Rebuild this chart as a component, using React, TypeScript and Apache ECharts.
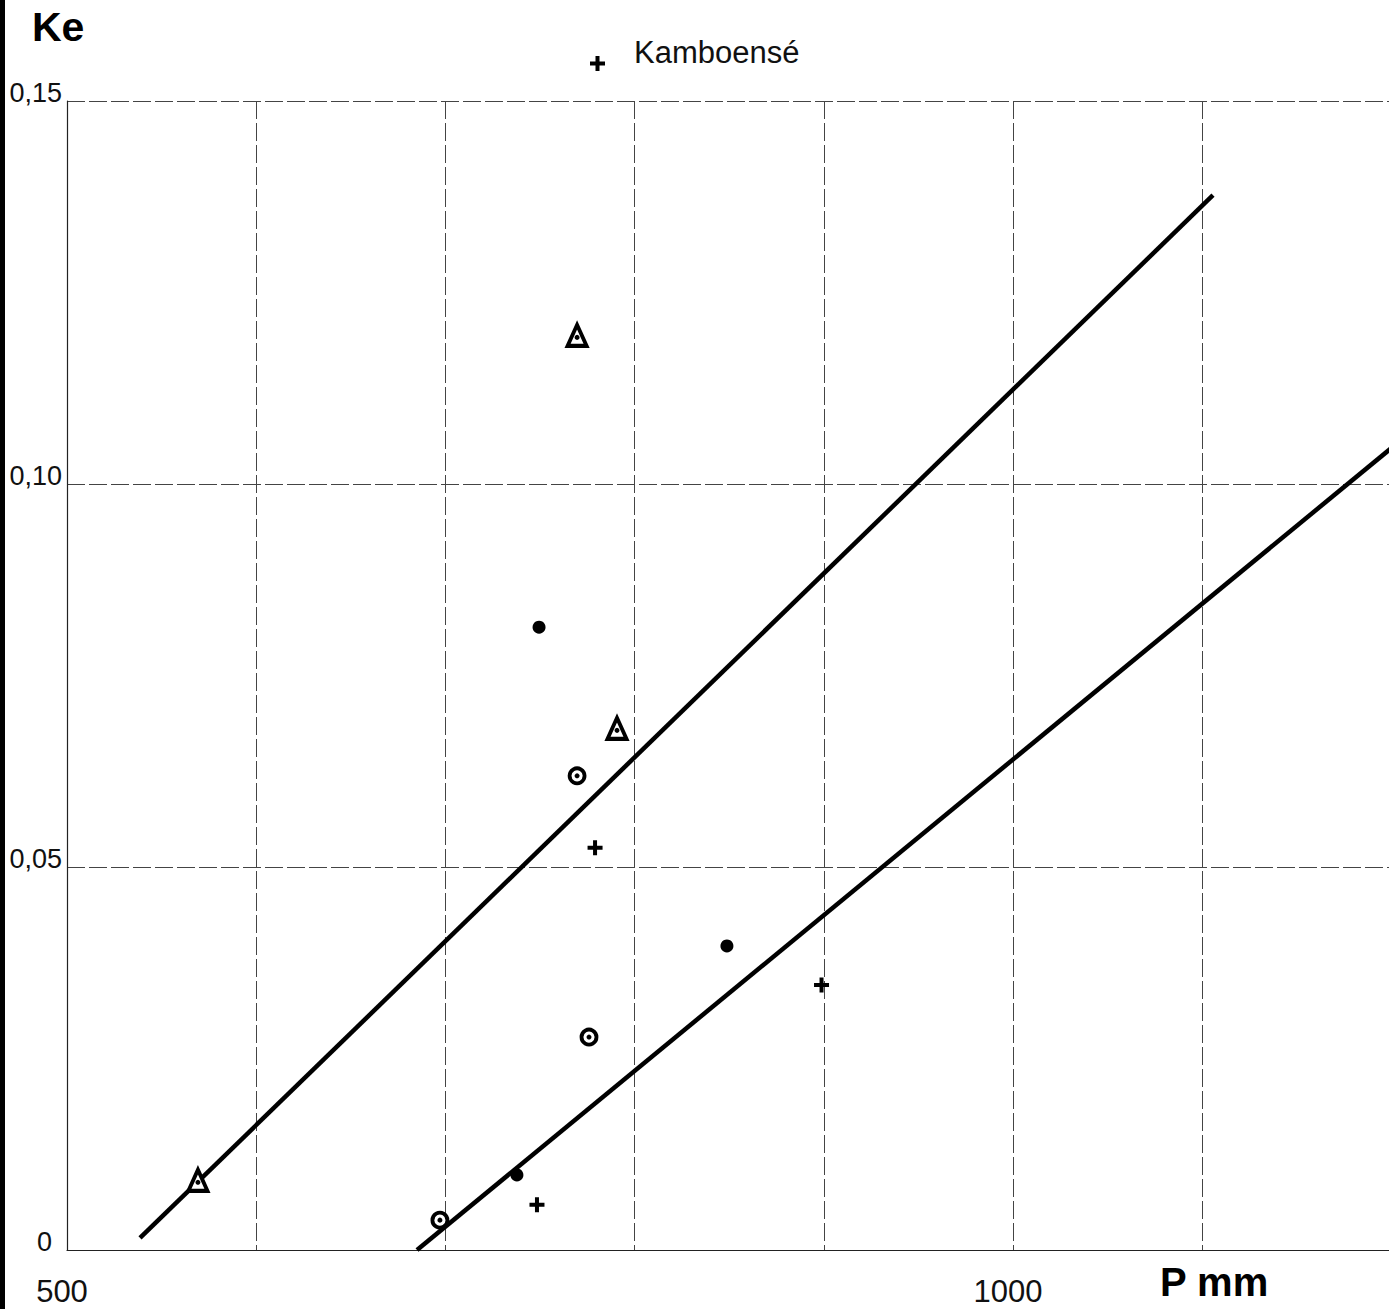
import React, { useEffect, useRef } from 'react';
import * as echarts from 'echarts';

// Tick labels
const xTickLabels = [500, 1000];
const yTickLabels = ['0', '0,05', '0,10', '0,15'];

// Series values: [P mm, Ke]
const triangleSeries = [[769.6, 0.1194], [790.7, 0.0681], [569.2, 0.0091]];
const ringSeries = [[769.6, 0.0619], [775.9, 0.0278], [697.1, 0.0039]];
const dotSeries = [[749.5, 0.0813], [848.8, 0.0397], [737.8, 0.0098]];
const kamboenseSeries = [[779.1, 0.0525], [898.8, 0.0346], [748.4, 0.0059]];
const upperLine = [[538.6, 0.00157], [1105.7, 0.1377]];
const lowerLine = [[685.0, 0], [1200, 0.1047]];

const FONT = 'Liberation Sans';
const PLUS = 'path://M0,5.5 L15,5.5 L15,9.5 L0,9.5 Z M5.5,0 L9.5,0 L9.5,15 L5.5,15 Z';
// legend icon: same plus, placed low in a taller box (degenerate top point sets the box)
const PLUS_LEGEND =
  'path://M7.5,0 L7.5,0 Z M0,28.5 L15,28.5 L15,32.5 L0,32.5 Z M5.5,23 L9.5,23 L9.5,38 L5.5,38 Z';

export default function App() {
  const ref = useRef<HTMLDivElement>(null);
  useEffect(() => {
    if (!ref.current) return;
    const chart = echarts.init(ref.current, null, { renderer: 'svg' });
    chart.setOption({
      animation: false,
      backgroundColor: '#fff',
      grid: { left: 67, top: 101, width: 1324.4, height: 1149, outerBoundsMode: 'none', containLabel: false },
      legend: {
        data: [{ name: 'Kamboensé', icon: PLUS_LEGEND }],
        left: 590,
        top: 33,
        padding: 0,
        itemWidth: 15,
        itemHeight: 38,
        textStyle: {
          fontFamily: FONT,
          fontSize: 31,
          color: '#111',
          padding: [0, 0, 0, 24],
        },
      },
      xAxis: {
        type: 'value',
        min: 500,
        max: 1200,
        interval: 100,
        axisLine: { show: true, lineStyle: { color: '#222', width: 1.2 } },
        axisTick: { show: false },
        splitLine: { show: true, lineStyle: { color: '#444', width: 1, type: [18, 4] } },
        axisLabel: {
          margin: 26,
          fontFamily: FONT,
          fontSize: 31,
          color: '#111',
          padding: [0, 10, 0, 0],
          formatter: (v: number) => (xTickLabels.includes(v) ? String(v) : ''),
        },
      },
      yAxis: {
        type: 'value',
        min: 0,
        max: 0.15,
        interval: 0.05,
        axisLine: { show: true, lineStyle: { color: '#222', width: 1.2 } },
        axisTick: { show: false },
        splitLine: { show: true, lineStyle: { color: '#444', width: 1, type: [18, 4] } },
        axisLabel: {
          margin: 5,
          fontFamily: FONT,
          fontSize: 27,
          color: '#111',
          padding: [0, 0, 16, 0],
          formatter: (v: number) => {
            const i = Math.round(v / 0.05);
            const t = yTickLabels[i] ?? '';
            return i === 0 ? '{z|' + t + '}' : t;
          },
          rich: {
            z: { fontFamily: FONT, fontSize: 27, color: '#111', padding: [0, 10, 0, 0] },
          },
        },
      },
      graphic: [
        { type: 'rect', shape: { x: 0, y: 0, width: 5, height: 1309 }, style: { fill: '#000' } },
        {
          type: 'text',
          x: 32,
          y: 27,
          style: {
            text: 'Ke',
            fontFamily: FONT,
            fontWeight: 'bold',
            fontSize: 41,
            fill: '#000',
            verticalAlign: 'middle',
          },
        },
        {
          type: 'text',
          x: 1160,
          y: 1282,
          style: {
            text: 'P mm',
            fontFamily: FONT,
            fontWeight: 'bold',
            fontSize: 40,
            fill: '#000',
            verticalAlign: 'middle',
          },
        },
      ],
      series: [
        {
          name: 'upper',
          type: 'line',
          data: upperLine,
          symbol: 'none',
          lineStyle: { color: '#000', width: 4.5 },
          z: 2,
        },
        {
          name: 'lower',
          type: 'line',
          data: lowerLine,
          symbol: 'none',
          lineStyle: { color: '#000', width: 4.5 },
          z: 2,
        },
        {
          name: 'triangle',
          type: 'scatter',
          data: triangleSeries,
          symbol: 'triangle',
          symbolSize: [19, 21],
          itemStyle: { color: '#fff', borderColor: '#000', borderWidth: 4, opacity: 1 },
          z: 3,
        },
        {
          name: 'triangleDot',
          type: 'scatter',
          data: triangleSeries,
          symbol: 'circle',
          symbolSize: 5,
          symbolOffset: [0, 2],
          itemStyle: { color: '#000', opacity: 1 },
          z: 4,
        },
        {
          name: 'ring',
          type: 'scatter',
          data: ringSeries,
          symbol: 'circle',
          symbolSize: 15,
          itemStyle: { color: '#fff', borderColor: '#000', borderWidth: 3.8, opacity: 1 },
          z: 3,
        },
        {
          name: 'ringDot',
          type: 'scatter',
          data: ringSeries,
          symbol: 'circle',
          symbolSize: 5,
          itemStyle: { color: '#000', opacity: 1 },
          z: 4,
        },
        {
          name: 'dot',
          type: 'scatter',
          data: dotSeries,
          symbol: 'circle',
          symbolSize: 13,
          itemStyle: { color: '#000', opacity: 1 },
          z: 3,
        },
        {
          name: 'Kamboensé',
          type: 'scatter',
          data: kamboenseSeries,
          symbol: PLUS,
          symbolSize: 15,
          itemStyle: { color: '#000', opacity: 1 },
          z: 3,
        },
      ],
    });
    return () => chart.dispose();
  }, []);
  return (
    <div
      ref={ref}
      style={{ position: 'absolute', left: 0, top: 0, width: 1389, height: 1309 }}
    />
  );
}
